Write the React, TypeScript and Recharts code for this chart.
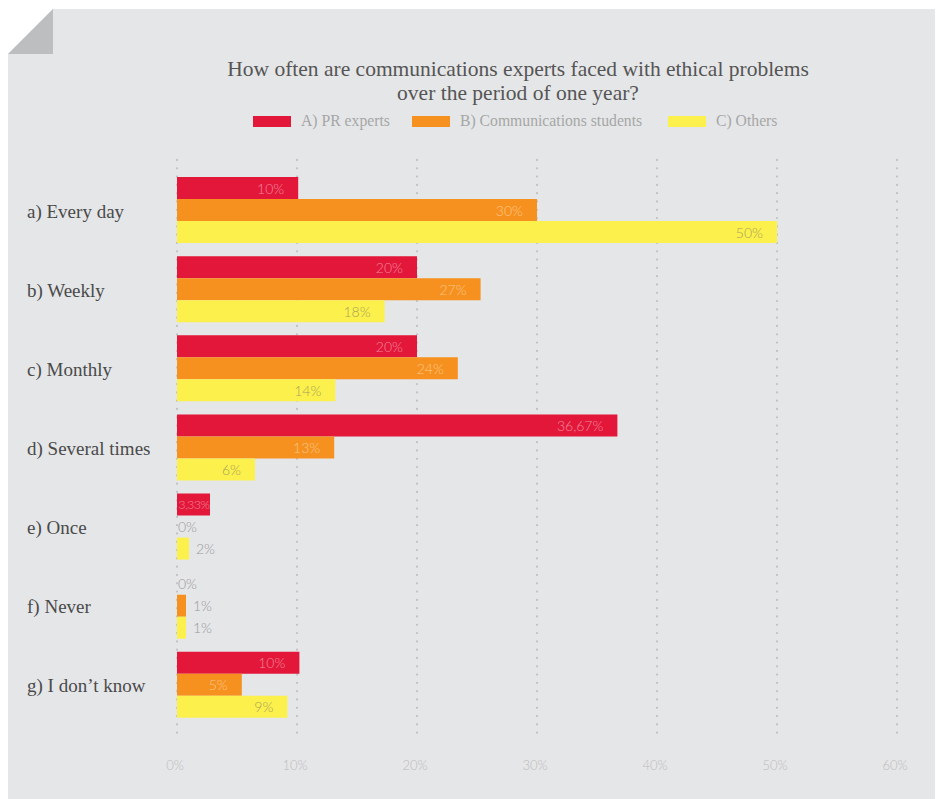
import React from "react";
import { BarChart, Bar, XAxis, YAxis, CartesianGrid, LabelList, Rectangle } from "recharts";

// ── data ────────────────────────────────────────────────────────────────────
const categories = ["a) Every day", "b) Weekly", "c) Monthly", "d) Several times", "e) Once", "f) Never", "g) I don’t know"];
// bar lengths as drawn in the original
const prValues = [10.1, 20, 20, 36.7, 2.75, 0, 10.2];
const studentValues = [30, 25.3, 23.4, 13.1, 0, 0.75, 5.4];
const othersValues = [50, 17.3, 13.2, 6.5, 1, 0.75, 9.2];
// printed labels
const prLabels = ["10%", "20%", "20%", "36,67%", "3,33%", "0%", "10%"];
const studentLabels = ["30%", "27%", "24%", "13%", "0%", "1%", "5%"];
const othersLabels = ["50%", "18%", "14%", "6%", "2%", "1%", "9%"];
const xTicks = [0, 10, 20, 30, 40, 50, 60];
const titleLines = ["How often are communications experts faced with ethical problems", "over the period of one year?"];

const SERIES = [
  { key: "pr", name: "A) PR experts", color: "#e2173a", ink: "#f3879a", legendX: 245 },
  { key: "students", name: "B) Communications students", color: "#f6901e", ink: "#fcc98c", legendX: 404 },
  { key: "others", name: "C) Others", color: "#fcf04c", ink: "#a9a35a", legendX: 660 },
];

const chartData = categories.map((name, i) => ({
  name,
  pr: prValues[i],
  students: studentValues[i],
  others: othersValues[i],
  prLabel: prLabels[i],
  studentsLabel: studentLabels[i],
  othersLabel: othersLabels[i],
}));

const SERIF = "'Liberation Serif', 'Times New Roman', serif";
const SANS = "Lato, 'Open Sans', sans-serif";
const BG = "#e5e6e8";

const BarLabel = (props: any) => {
  const { x, y, width, height, value, ink } = props;
  const cy = y + height / 2;
  const common = { dominantBaseline: "central" as const, fontFamily: SANS, fontWeight: 300 };
  if (value === "0%") {
    return <text x={x + 1} y={cy} fill="#9a9a9a" fontSize={14} {...common}>{value}</text>;
  }
  if (width < 20) {
    return <text x={x + width + 7} y={cy} fill="#9a9a9a" fontSize={14} {...common}>{value}</text>;
  }
  if (width < 40) {
    return <text x={x + width - 0.5} y={cy} textAnchor="end" fill={ink} fontSize={12.5} letterSpacing={-0.6} {...common}>{value}</text>;
  }
  return <text x={x + width - 14} y={cy} textAnchor="end" fill={ink} fontSize={14} {...common}>{value}</text>;
};

// zero-length bars still need a slot for their "0%" label, but draw nothing
const BarShape = (props: any) => {
  if (props.payload && props.payload[props.seriesKey] === 0) return <g />;
  return <Rectangle {...props} />;
};

const CategoryTick = (props: any) => (
  <text x={19} y={props.y} dy={7} textAnchor="start" fill="#4a4a4a" fontSize={19} fontFamily={SERIF}>
    {props.payload.value}
  </text>
);

const PercentTick = (props: any) => (
  <text x={props.x - 2} y={props.y} dy={25} textAnchor="middle" fill="#bcbcbc" fontSize={13} fontFamily={SANS} fontWeight={300}>
    {`${props.payload.value}%`}
  </text>
);

export default function App() {
  return (
    <div style={{ position: "relative", width: 935, height: 791 }}>
      <div style={{ position: "absolute", left: 0, top: 1, width: 935, height: 790, background: BG }} />
      <svg width={46} height={47} style={{ position: "absolute", left: 0, top: 1 }}>
        <polygon points="0,0 45,0 0,45" fill="#ffffff" />
        <polygon points="45,0 45,45 0,45" fill="#bdbec0" />
      </svg>

      {titleLines.map((line, i) => (
        <div
          key={i}
          style={{
            position: "absolute", left: 510, top: 49 + i * 24, height: 24, transform: "translateX(-50%)",
            whiteSpace: "nowrap", fontFamily: SERIF, fontSize: 21.5, lineHeight: "24px", color: "#555555",
          }}
        >
          {line}
        </div>
      ))}

      {SERIES.map(s => (
        <div key={s.key} style={{ position: "absolute", left: s.legendX, top: 104, display: "flex", alignItems: "center", whiteSpace: "nowrap" }}>
          <div style={{ width: 38, height: 11, background: s.color }} />
          <span style={{ marginLeft: 10, fontFamily: SERIF, fontSize: 15.7, color: "#a6a6a6" }}>{s.name}</span>
        </div>
      ))}

      <div style={{ position: "absolute", left: 0, top: 0 }}>
        <BarChart
          width={935}
          height={791}
          data={chartData}
          layout="vertical"
          margin={{ top: 152, right: 46, left: 0, bottom: 22 }}
          barCategoryGap={6}
          barGap={0}
        >
          <CartesianGrid
            horizontal={false}
            stroke="#c2c3c5"
            strokeWidth={2.3}
            strokeDasharray="0 8.3"
            strokeLinecap="round"
          />
          <XAxis
            type="number"
            domain={[0, 60]}
            ticks={xTicks}
            height={40}
            axisLine={false}
            tickLine={false}
            tick={<PercentTick />}
          />
          <YAxis
            type="category"
            dataKey="name"
            width={169}
            axisLine={false}
            tickLine={false}
            padding={{ top: 11, bottom: 12 }}
            tick={<CategoryTick />}
          />
          {SERIES.map(s => (
            <Bar
              key={s.key}
              dataKey={s.key}
              name={s.name}
              fill={s.color}
              minPointSize={1}
              shape={(p: any) => <BarShape {...p} seriesKey={s.key} />}
              isAnimationActive={false}
            >
              <LabelList dataKey={`${s.key}Label`} content={(p: any) => <BarLabel {...p} ink={s.ink} />} />
            </Bar>
          ))}
        </BarChart>
      </div>
    </div>
  );
}
